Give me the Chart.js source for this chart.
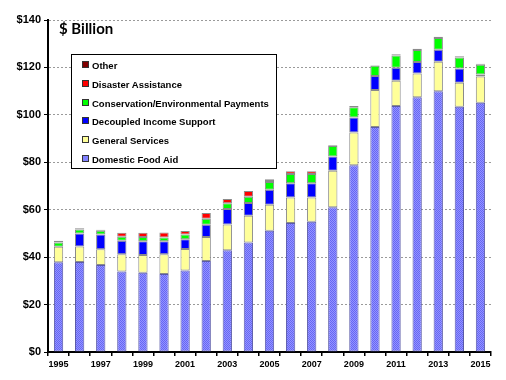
<!DOCTYPE html>
<html>
<head>
<meta charset="utf-8">
<script src="https://cdn.jsdelivr.net/npm/chart.js@4/dist/chart.umd.min.js"></script>
<style>
  html, body { margin: 0; padding: 0; background: #fff; }
  #wrap { position: relative; width: 506px; height: 380px; }
  #title { position: absolute; left: 59px; top: 19px; font: bold 15px Lato, "Open Sans", sans-serif; color: #000; }
  #legend { position: absolute; left: 71px; top: 54px; width: 204px; height: 113px; border: 1.5px solid #000; background: #fff; box-sizing: content-box; }
  #legend div { position: absolute; left: 10px; font: bold 9.5px "Liberation Sans", Arial, sans-serif; color: #000; white-space: nowrap; line-height: 12px; }
  #legend span { display: inline-block; width: 5px; height: 5px; border: 1px solid #333; margin-right: 3px; vertical-align: 1px; }
</style>
</head>
<body>
<div id="wrap">
  <canvas id="c" width="506" height="380"></canvas>
  <div id="title">$ Billion</div>
  <div id="legend"></div>
</div>
<script>
const years = ['1995','1996','1997','1998','1999','2000','2001','2002','2003','2004','2005','2006','2007','2008','2009','2010','2011','2012','2013','2014','2015'];
const yTickLabels = ['$0','$20','$40','$60','$80','$100','$120','$140'];
const seriesNames = ['Domestic Food Aid','General Services','Decoupled Income Support','Conservation/Environmental Payments','Disaster Assistance','Other'];
const foodAid      = [37.8, 38.0, 36.7, 33.9, 33.4, 32.9, 34.4, 38.4, 42.9, 46.2, 51.1, 54.4, 54.9, 61.0, 78.8, 94.9, 103.7, 107.4, 110.0, 103.4, 105.1];
const generalSvc   = [6.6, 6.5, 6.6, 7.3, 7.5, 8.3, 9.0, 10.1, 10.9, 11.3, 11.0, 10.8, 10.3, 15.4, 13.8, 15.6, 10.7, 10.0, 12.4, 10.1, 11.1];
const decoupled    = [0, 5.5, 6.3, 5.7, 5.8, 5.5, 4.1, 5.2, 6.5, 5.3, 6.3, 6.0, 6.0, 6.0, 6.3, 5.9, 5.5, 4.9, 5.1, 6.1, 0.8];
const conservation = [1.8, 1.7, 1.5, 1.7, 1.8, 1.6, 2.1, 2.5, 2.4, 2.7, 3.3, 3.9, 3.9, 4.5, 4.3, 4.3, 5.1, 5.1, 4.9, 4.6, 4.1];
const disaster     = [0.2, 0, 0, 1.7, 1.8, 2.1, 1.4, 2.4, 1.8, 2.4, 0.8, 1.1, 1.1, 0, 0, 0, 0, 0, 0, 0, 0];
const other        = [0.5, 0.5, 0.5, 0, 0, 0, 0, 0, 0, 0, 0.3, 0, 0, 0.3, 0.5, 0.2, 0.6, 0.5, 0.5, 0.5, 0.5];

const colors = ['#8080ff', '#ffff99', '#0000ff', '#00ff00', '#ff0000', '#800000'];

// checkered pattern for food aid
function makePattern() {
  const p = document.createElement('canvas');
  p.width = 2; p.height = 2;
  const g = p.getContext('2d');
  g.fillStyle = '#9494ff'; g.fillRect(0, 0, 2, 2);
  g.fillStyle = '#6666f4'; g.fillRect(0, 0, 1, 1); g.fillRect(1, 1, 1, 1);
  return g.createPattern(p, 'repeat');
}
const foodPattern = makePattern();

const seriesValues = [foodAid, generalSvc, decoupled, conservation, disaster, other];
const datasets = seriesValues.map((vals, i) => ({
  label: seriesNames[i],
  data: vals,
  backgroundColor: i === 0 ? foodPattern : colors[i],
  borderColor: i === 0 ? '#5a5aa8' : '#8a8a8a',
  borderWidth: (ctx) => (ctx.raw > 0 ? 1 : 0),
  borderSkipped: false,
  barPercentage: 0.44,
  categoryPercentage: 1.0
}));

// HTML legend (reverse order)
const leg = document.getElementById('legend');
for (let k = 0; k < seriesNames.length; k++) {
  const i = seriesNames.length - 1 - k;
  const d = document.createElement('div');
  d.style.top = (5 + k * 18.8) + 'px';
  const sw = document.createElement('span');
  sw.style.background = colors[i];
  d.appendChild(sw);
  d.appendChild(document.createTextNode(seriesNames[i]));
  leg.appendChild(d);
}

new Chart(document.getElementById('c'), {
  type: 'bar',
  data: { labels: years, datasets },
  options: {
    responsive: false,
    animation: false,
    layout: { padding: { top: 20, right: 15, left: 0, bottom: 0 } },
    plugins: { legend: { display: false }, tooltip: { enabled: false } },
    scales: {
      x: {
        stacked: true,
        grid: { display: true, drawOnChartArea: false, drawTicks: true, tickLength: 4, color: '#000', lineWidth: 1.5 },
        border: { display: true, color: '#000', width: 2 },
        ticks: {
          autoSkip: false, maxRotation: 0, padding: 3,
          color: '#000',
          font: { family: "'Liberation Sans Narrow', 'Liberation Sans'", size: 9, weight: 'bold' },
          callback: (v, i) => (i % 2 === 0 ? years[i] : '')
        },
        afterFit: (s) => { s.height = 28; }
      },
      y: {
        stacked: true,
        min: 0, max: 140,
        grid: { color: '#9a9a9a', lineWidth: 1, tickLength: 4, tickColor: '#000', drawTicks: true },
        border: { display: true, color: '#000', width: 2, dash: [2, 2] },
        ticks: {
          stepSize: 20, padding: 3, color: '#000',
          font: { family: 'Liberation Sans', size: 11, weight: 'bold' },
          callback: (v) => yTickLabels[Math.round(v / 20)]
        },
        afterFit: (s) => { s.width = 48; }
      }
    }
  }
});
</script>
</body>
</html>
